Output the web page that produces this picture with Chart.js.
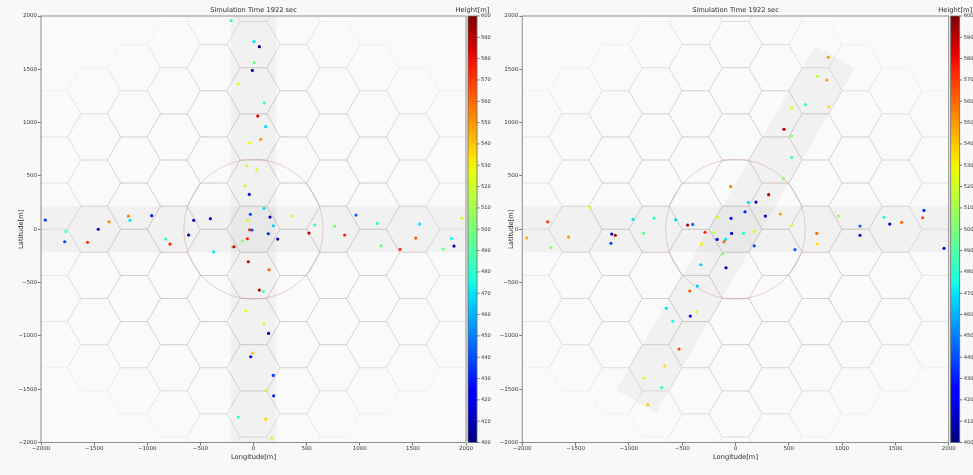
<!DOCTYPE html>
<html><head><meta charset="utf-8">
<script src="https://cdn.jsdelivr.net/npm/chart.js@4.4.1/dist/chart.umd.min.js"></script>
<style>
html,body{margin:0;padding:0;background:#f8f9f7;width:973px;height:475px;overflow:hidden;}
canvas{position:absolute;top:0;}
#c1{left:0;} #c2{left:490px;}
</style></head><body>
<canvas id="c1" width="500" height="475" style="width:500px;height:475px"></canvas>
<canvas id="c2" width="483" height="475" style="width:483px;height:475px"></canvas>
<script>
// ---------- texts & ticks ----------
const TITLE = 'Simulation Time 1922 sec';
const CBAR_TITLE = 'Height[m]';
const X_TITLE = 'Longitude[m]';
const Y_TITLE = 'Latitude[m]';
const AXIS_MIN = -2000, AXIS_MAX = 2000, AXIS_STEP = 500;
const HEIGHT_MIN = 400, HEIGHT_MAX = 600, HEIGHT_STEP = 10;

// ---------- left panel (straight cross roads) ----------
const leftLon = [-212,5,55,8,-11,-143,102,40,115,68,-36,-64,30,-83,-40,99,-30,155,-55,186,-36,-14,139,228,-58,
  369,576,764,522,858,965,1165,1564,1527,1862,1962,
  -1960,-1765,-1461,-1360,-1178,-1162,-958,-563,-406,-610,-826,-1777,-1561,-786,-375,-200,-184,-105,
  -49,146,55,92,-73,99,142,-8,-26,186,120,190,-143,115,171,1200,1379,1786,1887];
const leftLat = [1956,1759,1712,1562,1490,1362,1184,1062,962,843,809,596,558,408,327,196,140,114,80,33,-5,-7,-42,-92,-89,
  124,39,27,-36,-54,133,55,49,-83,-85,105,
  86,-20,0,70,124,84,127,84,99,-54,-92,-117,-123,-139,-211,-167,-164,-111,
  -305,-380,-570,-583,-765,-883,-977,-1161,-1196,-1371,-1511,-1562,-1762,-1780,-1959,-155,-189,-186,-158];
const leftHeight = [485,470,405,495,415,522,478,585,468,550,530,522,522,522,425,470,440,410,517,465,575,440,430,405,575,
  520,485,500,590,575,445,480,470,565,475,520,
  435,490,410,555,555,470,430,410,415,405,485,440,570,575,470,495,585,500,
  590,562,590,490,525,515,415,540,425,435,515,430,480,537,515,495,570,495,410];

// ---------- right panel (diagonal road) ----------
const rightLon = [871,771,856,527,655,875,455,527,527,448,-45,311,120,192,420,89,280,-42,-167,533,964,1168,1393,1447,1559,1768,1756,
  762,1168,-36,73,176,-202,-286,-449,-401,-561,-765,-961,-861,-1161,-1128,-1365,-1762,-1565,-1959,-173,-92,
  -1731,-1168,-108,-321,-120,-326,-89,176,558,767,1956,-358,-430,-649,-364,-424,-589,-530,-664,-858,-692,-824];
const rightLat = [1613,1434,1400,1140,1168,1149,937,874,674,474,399,324,252,255,143,164,124,102,114,39,124,30,112,49,65,177,108,
  -39,-57,-39,-39,-20,-29,-29,39,45,89,105,93,-39,-45,-57,202,70,-73,-80,-95,-95,
  -170,-132,-117,-139,-233,-333,-361,-155,-192,-136,-179,-533,-580,-742,-774,-814,-864,-1124,-1281,-1396,-1484,-1646];
const rightHeight = [550,515,548,522,482,535,590,505,485,505,555,590,470,410,550,430,410,425,520,520,505,445,480,410,560,435,565,
  560,410,415,478,520,520,575,595,445,465,480,470,495,410,590,520,570,550,545,420,470,
  505,440,560,530,500,465,405,440,445,535,420,465,560,470,530,415,475,565,535,520,480,540];

// ---------- map geometry (data units, metres) ----------
const HEX_R = 250, HEX_RINGS = 5;
const COVERAGE_R = 655;
const ROAD_HALF_WIDTH = 215;
const DIAG_ANGLE_DEG = 60, DIAG_HALF_LEN = 1865;

// ---------- jet colormap ----------
const JET = {
  r: [[0,0],[0.35,0],[0.66,1],[0.89,1],[1,0.5]],
  g: [[0,0],[0.125,0],[0.375,1],[0.64,1],[0.91,0],[1,0]],
  b: [[0,0.5],[0.11,1],[0.34,1],[0.65,0],[1,0]]
};
function seg(pts, t){
  for (let i = 1; i < pts.length; i++) {
    if (t <= pts[i][0]) { const [x0,y0] = pts[i-1], [x1,y1] = pts[i]; return y0 + (y1-y0)*(t-x0)/(x1-x0); }
  }
  return pts[pts.length-1][1];
}
function jetT(t){
  t = Math.min(1, Math.max(0, t));
  return `rgb(${Math.round(seg(JET.r,t)*255)},${Math.round(seg(JET.g,t)*255)},${Math.round(seg(JET.b,t)*255)})`;
}
function jet(v){ return jetT((v-HEIGHT_MIN)/(HEIGHT_MAX-HEIGHT_MIN)); }

const FONT = 'DejaVu Sans';
const fmt = v => String(v).replace('-', '\u2212');
const PLOT_BG = '#f9faf9';

function makeDecor(roads){
  return {
    id: 'decor',
    beforeDatasetsDraw(chart){
      const {ctx, chartArea: a, scales: {x, y}} = chart;
      const px = v => x.getPixelForValue(v), py = v => y.getPixelForValue(v);
      ctx.save();
      ctx.fillStyle = PLOT_BG;
      ctx.fillRect(a.left, a.top, a.width, a.height);
      ctx.beginPath(); ctx.rect(a.left, a.top, a.width, a.height); ctx.clip();
      // roads
      const W = ROAD_HALF_WIDTH, BIG = 3000;
      const poly = (pts, fill) => {
        ctx.beginPath();
        pts.forEach(([u,v], i) => i ? ctx.lineTo(px(u), py(v)) : ctx.moveTo(px(u), py(v)));
        ctx.closePath(); ctx.fillStyle = fill; ctx.fill();
      };
      const roadFill = 'rgba(90,95,90,0.055)';
      roads.forEach(r => {
        if (r === 'h') poly([[-BIG,-W],[BIG,-W],[BIG,W],[-BIG,W]], roadFill);
        if (r === 'v') poly([[-W,-BIG],[W,-BIG],[W,BIG],[-W,BIG]], roadFill);
        if (r === 'd') {
          const th = DIAG_ANGLE_DEG*Math.PI/180, L = DIAG_HALF_LEN;
          const ux = Math.cos(th), uy = Math.sin(th), nx = -uy, ny = ux;
          poly([[L*ux+W*nx, L*uy+W*ny],[L*ux-W*nx, L*uy-W*ny],[-L*ux-W*nx, -L*uy-W*ny],[-L*ux+W*nx, -L*uy+W*ny]], roadFill);
        }
      });
      // hex grid
      ctx.lineWidth = 1;
      const N = HEX_RINGS, R = HEX_R;
      for (let q = -N; q <= N; q++) {
        for (let r = Math.max(-N, -q-N); r <= Math.min(N, -q+N); r++) {
          const ring = Math.max(Math.abs(q), Math.abs(r), Math.abs(q+r));
          const cx = 1.5*R*q, cy = Math.sqrt(3)*R*(r + q/2);
          const alpha = ring >= 5 ? 0.07 : ring === 4 ? 0.12 : 0.15;
          ctx.strokeStyle = `rgba(120,95,95,${alpha})`;
          ctx.beginPath();
          for (let k = 0; k <= 6; k++) {
            const ang = k*Math.PI/3;
            const X = px(cx + R*Math.cos(ang)), Y = py(cy + R*Math.sin(ang));
            k ? ctx.lineTo(X, Y) : ctx.moveTo(X, Y);
          }
          ctx.stroke();
        }
      }
      // coverage circle
      ctx.beginPath();
      ctx.ellipse(px(0), py(0), Math.abs(px(COVERAGE_R)-px(0)), Math.abs(py(COVERAGE_R)-py(0)), 0, 0, 2*Math.PI);
      ctx.strokeStyle = 'rgba(200,120,120,0.42)';
      ctx.lineWidth = 0.8;
      ctx.stroke();
      ctx.restore();
    },
    afterDraw(chart){
      const {ctx, chartArea: a, scales: {cb}} = chart;
      ctx.save();
      // frame
      ctx.strokeStyle = '#8c8c8c'; ctx.lineWidth = 1;
      ctx.strokeRect(a.left, a.top, a.width, a.height);
      // colorbar
      const x0 = a.right + 2, bw = 9;
      const yTop = cb.getPixelForValue(HEIGHT_MAX), yBot = cb.getPixelForValue(HEIGHT_MIN);
      const g = ctx.createLinearGradient(0, yBot, 0, yTop);
      for (let i = 0; i <= 40; i++) g.addColorStop(i/40, jetT(i/40));
      ctx.fillStyle = g;
      ctx.fillRect(x0, yTop, bw, yBot - yTop);
      ctx.strokeStyle = '#666'; ctx.lineWidth = 0.8;
      ctx.strokeRect(x0, yTop, bw, yBot - yTop);
      ctx.strokeStyle = '#555'; ctx.lineWidth = 0.8;
      cb.ticks.forEach(t => {
        const yy = cb.getPixelForValue(t.value);
        ctx.beginPath(); ctx.moveTo(x0 + bw, yy); ctx.lineTo(x0 + bw + 2.5, yy); ctx.stroke();
      });
      // titles
      ctx.fillStyle = '#2a2a2a';
      ctx.font = `6.7px "${FONT}"`;
      ctx.textAlign = 'center'; ctx.textBaseline = 'middle';
      ctx.fillText(TITLE, (a.left + a.right)/2, 10);
      ctx.fillText(CBAR_TITLE, x0 + bw/2, 10);
      ctx.restore();
    }
  };
}

function makeChart(id, lon, lat, h, yWidth, cbWidth, roads){
  const pts = lon.map((v, i) => ({x: v, y: lat[i]}));
  const tickFont = {family: FONT, size: 5.5};
  const titleFont = {family: FONT, size: 6.7};
  return new Chart(document.getElementById(id), {
    type: 'scatter',
    data: {datasets: [{data: pts, backgroundColor: h.map(jet), borderWidth: 0, pointRadius: 1.6, pointHoverRadius: 1.6}]},
    options: {
      responsive: false, animation: false, devicePixelRatio: 1, events: [],
      layout: {padding: {top: 16, left: 0, right: 0, bottom: 0}},
      plugins: {legend: {display: false}, tooltip: {enabled: false}, title: {display: false}},
      scales: {
        x: {type: 'linear', position: 'bottom', min: AXIS_MIN, max: AXIS_MAX,
          ticks: {stepSize: AXIS_STEP, font: tickFont, color: '#333', padding: 0, maxRotation: 0, autoSkip: false, callback: fmt},
          grid: {drawOnChartArea: false, drawTicks: true, tickLength: 3, tickColor: '#555', tickWidth: 0.8},
          border: {display: false},
          title: {display: true, text: X_TITLE, font: titleFont, color: '#2a2a2a', padding: {top: 0, bottom: 13.7}},
          afterFit: s => { s.height = 32.5; }},
        y: {type: 'linear', position: 'left', min: AXIS_MIN, max: AXIS_MAX,
          ticks: {stepSize: AXIS_STEP, font: tickFont, color: '#333', padding: 1, autoSkip: false, callback: fmt},
          grid: {drawOnChartArea: false, drawTicks: true, tickLength: 3, tickColor: '#555', tickWidth: 0.8},
          border: {display: false},
          title: {display: true, text: Y_TITLE, font: titleFont, color: '#2a2a2a', padding: {top: 17, bottom: 0}},
          afterFit: s => { s.width = yWidth; }},
        cb: {type: 'linear', position: 'right', min: HEIGHT_MIN, max: HEIGHT_MAX,
          ticks: {stepSize: HEIGHT_STEP, font: {family: FONT, size: 5.2}, color: '#333', padding: 1, autoSkip: false},
          grid: {drawOnChartArea: false, drawTicks: true, tickLength: 14, tickColor: 'rgba(0,0,0,0)'},
          border: {display: false},
          afterFit: s => { s.width = cbWidth; }}
      }
    },
    plugins: [makeDecor(roads)]
  });
}

makeChart('c1', leftLon, leftLat, leftHeight, 41, 34, ['h','v']);
makeChart('c2', rightLon, rightLat, rightHeight, 32.3, 24.3, ['h','d']);
</script>
</body></html>
